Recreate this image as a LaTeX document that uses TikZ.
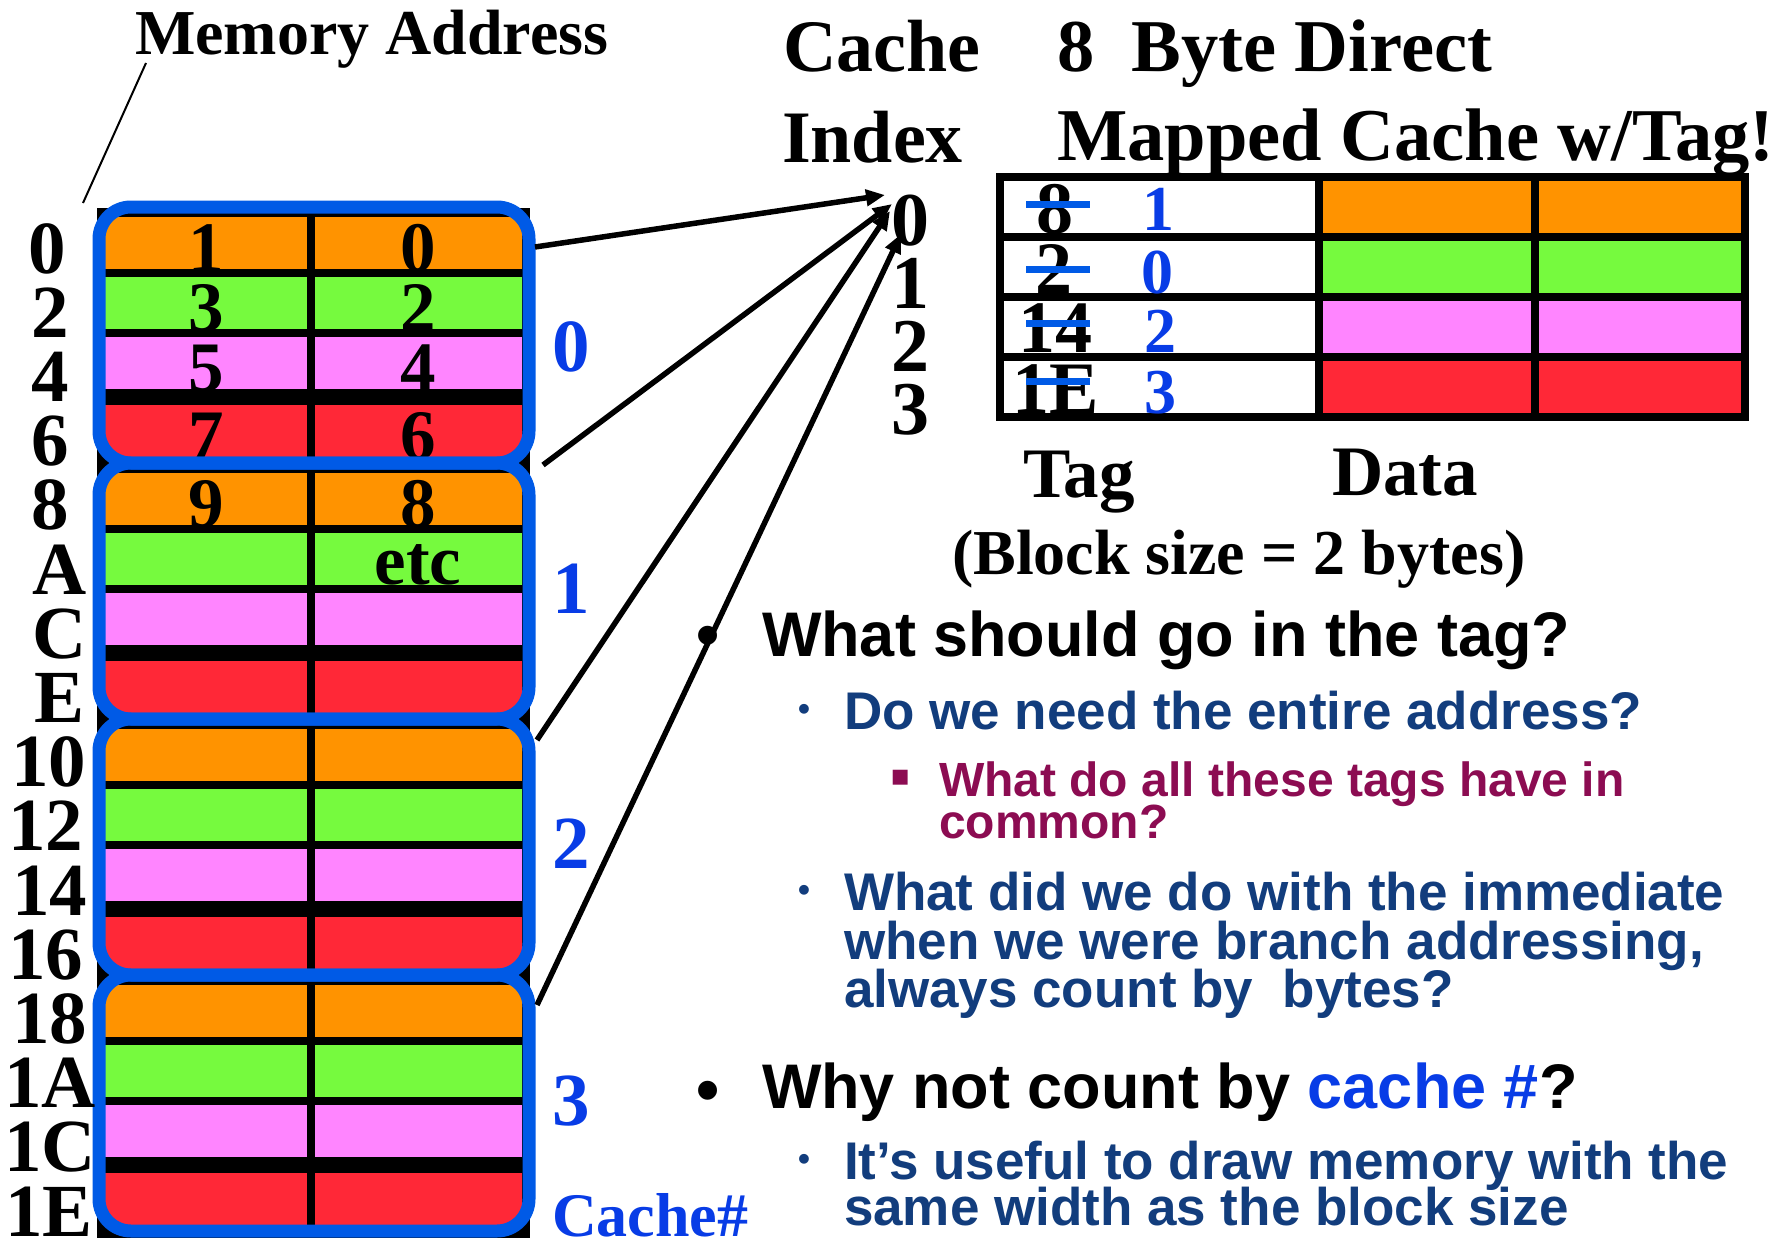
\documentclass[tikz,border=0pt]{standalone}
\usepackage{fontspec}
\setmainfont{Liberation Serif}
\newfontfamily\hvfont{Liberation Sans}
\newfontfamily\dvfont{DejaVu Sans}
\usetikzlibrary{arrows.meta}
\definecolor{cOr}{RGB}{255,147,0}
\definecolor{cGr}{RGB}{118,250,62}
\definecolor{cPk}{RGB}{255,133,255}
\definecolor{cRd}{RGB}{255,40,55}
\definecolor{cBl}{RGB}{0,90,230}
\definecolor{cBt}{RGB}{8,60,230}
\definecolor{cNv}{RGB}{18,61,125}
\definecolor{cMr}{RGB}{140,12,82}
\newcommand\myfs[1]{\fontsize{#1}{#1}\selectfont}
\begin{document}
\begin{tikzpicture}[x=1pt,y=-1pt,
  serif/.style={inner sep=0pt,outer sep=0pt,font=\bfseries\myfs{#1}},
  sans/.style={inner sep=0pt,outer sep=0pt,font=\hvfont\bfseries\myfs{#1}},
  blk/.style={draw=cBl,line width=13pt,rounded corners=32pt,minimum width=430pt,minimum height=256pt,inner sep=0pt,outer sep=0pt},
  arr/.style={-{Triangle[length=19pt,width=16pt]},line width=5.5pt},
  grid/.style={line width=8pt},
  strike/.style={cBl,line width=7pt}]
\fill[white] (0,0) rectangle (1791,1239);
\useasboundingbox (0,0) rectangle (1791,1239);

% ---- memory ----
\fill[black] (97,208) rectangle (530,1238);
\foreach \k in {0,1,2,3}{
  \pgfmathsetmacro\T{207+256*\k}
  \foreach \a/\b/\c in {10/62/cOr,70/122/cGr,130/182/cPk,198/252/cRd}{
    \fill[\c] (105,{\T+\a}) rectangle (307,{\T+\b});
    \fill[\c] (315,{\T+\a}) rectangle (522,{\T+\b});
  }
}
% cell contents
\node[serif=71,anchor=base] (m1) at (206,271) {1};
\node[serif=71,anchor=base] (m0) at (418,271) {0};
\node[serif=71,anchor=base] (m3) at (206,331) {3};
\node[serif=71,anchor=base] (m2) at (418,331) {2};
\node[serif=71,anchor=base] (m5) at (206,391) {5};
\node[serif=71,anchor=base] (m4) at (418,391) {4};
\node[serif=71,anchor=base] (m7) at (206,459) {7};
\node[serif=71,anchor=base] (m6) at (418,459) {6};
\node[serif=71,anchor=base] (m9) at (206,527) {9};
\node[serif=71,anchor=base] (m8) at (418,527) {8};
\node[serif=71,anchor=base] (metc) at (418,584) {etc};
% blue blocks
\foreach \k in {0,1,2,3}{
  \node[blk] (blk\k) at (314,{207+256*\k+128}) {};
}
% address labels
\foreach \t/\x [count=\i from 0] in {0/47,2/50,4/50,6/50,8/50,A/60,C/60,E/60,10/49,12/46,14/50,16/46,18/50,1A/50,1C/50,1E/49}{
  \node[serif=75,anchor=base] (ad\i) at (\x,{273+64.2*\i}) {\t};
}
\node[serif=64,anchor=base west] (memaddr) at (135,55) {Memory Address};
\coordinate (ma1) at (146,63);
\coordinate (ma2) at (83,203);
\draw[line width=2pt] (ma1) -- (ma2);
% cache numbers
\node[serif=75,anchor=base,text=cBt] (cn0) at (571,371) {0};
\node[serif=75,anchor=base,text=cBt] (cn1) at (571,613) {1};
\node[serif=75,anchor=base,text=cBt] (cn2) at (571,868) {2};
\node[serif=75,anchor=base,text=cBt] (cn3) at (571,1125) {3};
\node[serif=62,anchor=base west,text=cBt] (cnum) at (552,1236) {Cache\#};

% ---- headings ----
\node[serif=74,anchor=base west] (hcache) at (783,72) {Cache};
\node[serif=74.5,anchor=base west] (hbyte) at (1057,72) {8\ \ Byte Direct};
\node[serif=74,anchor=base west] (hindex) at (782,162) {Index};
\node[serif=74.5,anchor=base west] (hmapped) at (1057,160) {Mapped Cache w/Tag!};

% ---- index digits ----
\foreach \k in {0,1,2,3}{
  \node[serif=76,anchor=base] (ix\k) at (910,{245+63.3*\k}) {\k};
}

% ---- cache table ----
\foreach \r/\c in {0/cOr,1/cGr,2/cPk,3/cRd}{
  \fill[\c] (1319,{177+60*\r}) rectangle (1745,{237+60*\r});
}
\draw[grid] (1000,177) rectangle (1745,417);
\draw[grid] (1319,177) -- (1319,417) (1535,177) -- (1535,417);
\draw[grid] (1000,237) -- (1745,237) (1000,297) -- (1745,297) (1000,357) -- (1745,357);
\node[serif=74,anchor=base] (tg0) at (1055,233) {8};
\node[serif=74,anchor=base] (tg1) at (1054,293) {2};
\node[serif=74,anchor=base] (tg2) at (1055,352) {14};
\node[serif=74,anchor=base] (tg3) at (1056,413) {1E};
\draw[strike] (1026,204) -- (1090,204);
\draw[strike] (1026,269) -- (1090,269);
\draw[strike] (1026,323) -- (1090,323);
\draw[strike] (1026,381) -- (1090,381);
\node[serif=64,anchor=base,text=cBt] (nt0) at (1158,230) {1};
\node[serif=64,anchor=base,text=cBt] (nt1) at (1157,293) {0};
\node[serif=64,anchor=base,text=cBt] (nt2) at (1160,352) {2};
\node[serif=64,anchor=base,text=cBt] (nt3) at (1160,413) {3};
\node[serif=71,anchor=base west] (ltag) at (1023,497) {Tag};
\node[serif=71,anchor=base west] (ldata) at (1332,495) {Data};
\node[serif=64,anchor=base west] (lblock) at (952,574) {(Block size = 2 bytes)};

% ---- arrows ----
\coordinate (s1) at (535,247);
\coordinate (s2) at (543,465);
\coordinate (s3) at (537,740);
\coordinate (s4) at (537,1005);
\coordinate (e1) at (885,195);
\coordinate (e2) at (892,204);
\coordinate (e3) at (890,211);
\coordinate (e4) at (901,234);
\draw[arr] (s1) -- (e1);
\draw[arr] (s2) -- (e2);
\draw[arr] (s3) -- (e3);
\draw[arr] (s4) -- (e4);

% ---- bullet text ----
\node[sans=66,anchor=center] (b1) at (708,642) {•};
\node[sans=63,anchor=base west] (q1) at (762,656) {What should go in the tag?};
\node[sans=34,anchor=center,text=cNv] (b2) at (804,712) {•};
\node[sans=53,anchor=base west,text=cNv] (q2) at (844,729) {Do we need the entire address?};
\node[inner sep=0pt,font=\dvfont\myfs{30},anchor=center,text=cMr] (b3) at (901,778) {▪};
\node[sans=48,anchor=base west,text=cMr] (q3a) at (939,796) {What do all these tags have in};
\node[sans=48,anchor=base west,text=cMr] (q3b) at (939,838) {common?};
\node[sans=34,anchor=center,text=cNv] (b4) at (804,893) {•};
\node[sans=53,anchor=base west,text=cNv] (q4a) at (844,910) {What did we do with the immediate};
\node[sans=53,anchor=base west,text=cNv] (q4b) at (844,959) {when we were branch addressing,};
\node[sans=53,anchor=base west,text=cNv] (q4c) at (844,1007) {always count by\ \ bytes?};
\node[sans=66,anchor=center] (b5) at (708,1097) {•};
\node[sans=63,anchor=base west] (q5) at (762,1108) {Why not count by \textcolor{cBt}{cache \#}?};
\node[sans=34,anchor=center,text=cNv] (b6) at (804,1162) {•};
\node[sans=53,anchor=base west,text=cNv] (q6a) at (844,1179) {It’s useful to draw memory with the};
\node[sans=53,anchor=base west,text=cNv] (q6b) at (844,1225) {same width as the block size};
\end{tikzpicture}
\end{document}
